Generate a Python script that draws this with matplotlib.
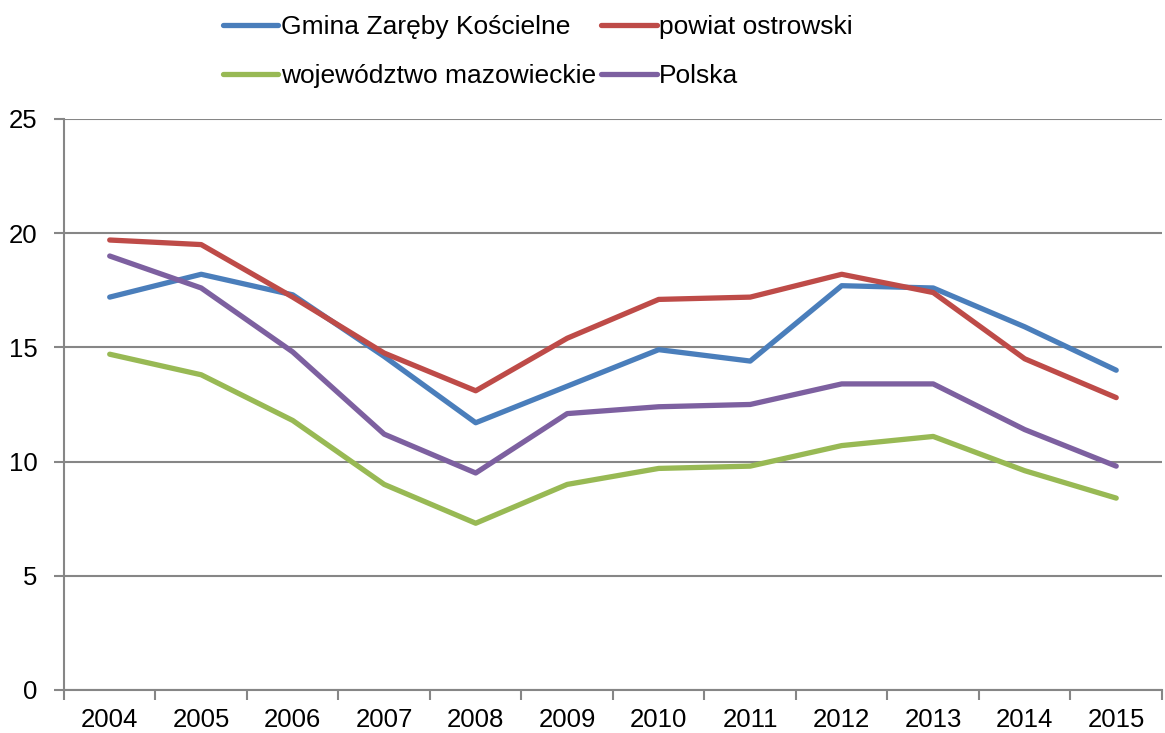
import matplotlib
matplotlib.use('Agg')
import matplotlib.pyplot as plt
import numpy as np

years = ['2004', '2005', '2006', '2007', '2008', '2009', '2010', '2011', '2012', '2013', '2014', '2015']
gmina = [17.2, 18.2, 17.3, 14.6, 11.7, 13.3, 14.9, 14.4, 17.7, 17.6, 15.9, 14.0]
powiat = [19.7, 19.5, 17.2, 14.75, 13.1, 15.4, 17.1, 17.2, 18.2, 17.4, 14.5, 12.8]
wojewodztwo = [14.7, 13.8, 11.8, 9.0, 7.3, 9.0, 9.7, 9.8, 10.7, 11.1, 9.6, 8.4]
polska = [19.0, 17.6, 14.8, 11.2, 9.5, 12.1, 12.4, 12.5, 13.4, 13.4, 11.4, 9.8]

series = [
    ('Gmina Zaręby Kościelne', gmina, '#4A7EBB'),
    ('powiat ostrowski', powiat, '#BE4B48'),
    ('województwo mazowieckie', wojewodztwo, '#98B954'),
    ('Polska', polska, '#7D60A0'),
]

plt.rcParams['font.family'] = ['Liberation Sans', 'DejaVu Sans']

fig = plt.figure(figsize=(11.65, 7.33), dpi=100)
ax = fig.add_axes([0.0549, 0.0587, 0.9425, 0.779])

x = np.arange(len(years))
handles = []
for label, vals, color in series:
    h, = ax.plot(x, vals, color=color, linewidth=3.8, label=label, solid_capstyle='round')
    handles.append(h)

ax.set_xlim(-0.5, len(years) - 0.5)
ax.set_ylim(0, 25)
ax.set_yticks([0, 5, 10, 15, 20, 25])
ax.set_xticks(x)
ax.set_xticklabels(years)
ax.set_xticks(np.arange(-0.5, len(years), 1.0), minor=True)
ax.tick_params(axis='x', which='major', length=0, labelsize=18.5, pad=13)
ax.tick_params(axis='x', which='minor', length=7, width=1.5, color='#868686')
ax.tick_params(axis='y', length=7, width=1.5, color='#868686', labelsize=18.5, pad=12)

ax.grid(axis='y', color='#868686', linewidth=1.5)
ax.set_axisbelow(True)
for s in ['top', 'right']:
    ax.spines[s].set_visible(False)
for s in ['left', 'bottom']:
    ax.spines[s].set_color('#868686')
    ax.spines[s].set_linewidth(1.5)

# legend fills column-wise, so reorder to get row-wise layout
order = [0, 2, 1, 3]
fig.legend(handles=[handles[i] for i in order], loc='upper left',
           bbox_to_anchor=(0.173, 1.008), ncol=2, frameon=False, fontsize=19,
           handlelength=2.1, handletextpad=0.1, columnspacing=0.2,
           labelspacing=0.95, borderpad=0.3)

fig.savefig('out.png', dpi=100)
